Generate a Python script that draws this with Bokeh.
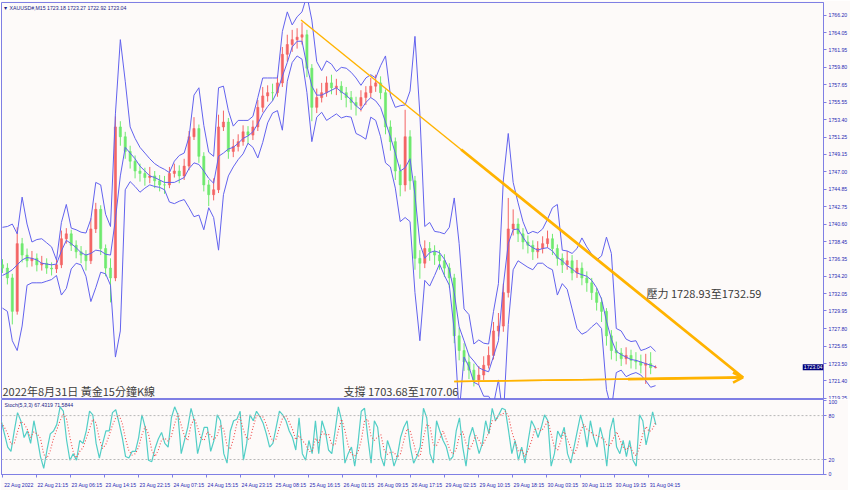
from bokeh.plotting import figure
from bokeh.layouts import column
from bokeh.models import (Range1d, FixedTicker, Label, Arrow, OpenHead, Span,
                          PrintfTickFormatter)
from bokeh.embed import file_html
from bokeh.resources import INLINE

# ---------------- data ----------------
first_open = 1735.6
closes = [
    1735.2, 1734.0, 1729.9, 1738.2, 1736.8, 1736.1, 1736.4, 1735.6, 1735.8, 1735.2,
    1735.1, 1735.6, 1738.8, 1739.4, 1738.0, 1737.2, 1736.8, 1736.1, 1740.0, 1742.4,
    1737.6, 1735.2, 1734.0, 1752.5, 1751.3, 1749.5, 1748.3, 1747.1, 1746.8, 1746.3,
    1746.5, 1745.9, 1745.4, 1745.4, 1746.8, 1747.1, 1746.5, 1747.7, 1751.3, 1752.3,
    1748.9, 1745.4, 1744.2, 1744.8, 1752.5, 1753.1, 1749.5, 1750.1, 1750.7, 1751.9,
    1751.5, 1752.5, 1754.9, 1756.3, 1756.7, 1756.7, 1757.9, 1761.4, 1762.6, 1763.2,
    1763.5, 1763.8, 1759.7, 1754.9, 1756.1, 1756.7, 1757.9, 1757.3, 1757.5, 1756.7,
    1756.1, 1755.5, 1755.1, 1756.1, 1756.7, 1757.5, 1757.9, 1756.7, 1752.5, 1750.7,
    1747.1, 1745.4, 1751.3, 1745.9, 1736.4, 1735.8, 1737.6, 1737.2, 1736.8, 1736.1,
    1735.2, 1734.0, 1726.9, 1725.1, 1723.7, 1722.7, 1721.5, 1722.1, 1723.3, 1724.5,
    1727.5, 1728.1, 1732.2, 1740.0, 1740.6, 1739.4, 1738.4, 1738.0, 1737.2, 1737.6,
    1738.2, 1738.8, 1737.6, 1736.4, 1735.6, 1736.1, 1734.6, 1735.2, 1734.0, 1733.4,
    1732.2, 1731.0, 1729.9, 1726.9, 1725.1, 1724.8, 1724.1, 1724.5, 1723.9, 1723.7,
    1723.3, 1723.5, 1723.0, 1723.04]
highs = [
    1736.3, 1735.8, 1734.5, 1740.2, 1738.9, 1737.6, 1737.3, 1737.0, 1736.7, 1736.4,
    1735.9, 1736.3, 1739.8, 1740.1, 1739.9, 1738.6, 1737.9, 1737.4, 1741.3, 1743.2,
    1742.9, 1738.1, 1736.4, 1753.8, 1753.2, 1751.9, 1750.2, 1749.0, 1748.0, 1747.5,
    1747.6, 1747.1, 1746.6, 1746.5, 1747.6, 1748.0, 1747.8, 1748.6, 1752.0, 1753.7,
    1752.8, 1749.4, 1746.0, 1746.2, 1754.0, 1754.5, 1753.6, 1751.0, 1751.6, 1752.7,
    1752.6, 1753.3, 1755.8, 1757.4, 1757.6, 1757.8, 1758.8, 1762.3, 1763.8, 1764.4,
    1764.6, 1765.3, 1764.4, 1760.2, 1757.2, 1757.9, 1758.7, 1758.9, 1758.4, 1758.1,
    1757.4, 1756.9, 1756.2, 1757.0, 1757.5, 1758.5, 1758.9, 1758.7, 1757.1, 1753.3,
    1751.2, 1747.9, 1754.6, 1752.1, 1746.5, 1737.4, 1738.6, 1738.4, 1738.0, 1737.4,
    1736.9, 1735.8, 1734.5, 1727.9, 1726.0, 1724.6, 1723.5, 1723.2, 1724.4, 1725.6,
    1728.6, 1729.7, 1733.3, 1743.8, 1742.4, 1741.3, 1740.1, 1739.2, 1738.6, 1738.5,
    1739.1, 1739.8, 1739.4, 1738.1, 1737.0, 1737.3, 1736.8, 1736.2, 1735.9, 1734.8,
    1734.0, 1732.8, 1731.6, 1730.3, 1727.6, 1726.2, 1725.4, 1725.5, 1725.2, 1724.9,
    1724.6, 1724.7, 1724.9, 1723.27]
lows = [
    1734.6, 1733.2, 1728.3, 1729.5, 1735.9, 1735.3, 1735.4, 1734.8, 1734.9, 1734.5,
    1734.3, 1734.6, 1735.2, 1738.2, 1737.3, 1736.4, 1735.8, 1734.9, 1735.7, 1739.5,
    1736.8, 1734.2, 1731.0, 1733.6, 1750.2, 1748.6, 1747.4, 1746.2, 1745.8, 1745.3,
    1745.6, 1745.0, 1744.6, 1744.3, 1745.0, 1746.3, 1745.6, 1746.0, 1747.2, 1750.9,
    1748.1, 1744.6, 1742.8, 1743.5, 1744.4, 1752.0, 1748.6, 1748.8, 1749.5, 1750.2,
    1750.4, 1750.9, 1752.0, 1754.3, 1755.6, 1755.7, 1756.2, 1757.4, 1760.5, 1761.7,
    1762.1, 1762.6, 1758.6, 1753.2, 1754.2, 1755.5, 1756.2, 1756.5, 1756.4, 1755.8,
    1754.9, 1754.6, 1753.9, 1754.4, 1755.2, 1756.1, 1756.8, 1755.9, 1751.6, 1749.6,
    1746.0, 1744.0, 1744.6, 1744.8, 1735.0, 1733.9, 1735.2, 1736.1, 1735.6, 1735.0,
    1734.1, 1732.8, 1726.0, 1723.9, 1722.6, 1721.6, 1720.7, 1720.9, 1721.5, 1722.9,
    1724.0, 1726.8, 1727.4, 1731.6, 1739.2, 1738.4, 1737.5, 1737.0, 1736.2, 1736.4,
    1737.0, 1737.7, 1736.8, 1735.5, 1734.6, 1735.0, 1733.7, 1734.0, 1733.1, 1732.3,
    1731.3, 1730.0, 1728.6, 1725.7, 1724.0, 1723.8, 1723.2, 1723.4, 1722.9, 1722.8,
    1722.3, 1721.0, 1722.2, 1722.92]
bb_upper = [
    1740.2, 1740.3, 1740.6, 1739.4, 1743.9, 1740.6, 1738.4, 1738.7, 1738.8, 1738.3,
    1737.8, 1736.2, 1740.8, 1743.0, 1740.1, 1739.9, 1739.6, 1739.5, 1741.2, 1745.7,
    1745.4, 1741.8, 1740.3, 1754.1, 1763.2, 1758.1, 1752.5, 1751.1, 1750.0, 1749.3,
    1748.6, 1748.0, 1747.6, 1747.3, 1746.9, 1748.3, 1749.0, 1749.3, 1751.3, 1756.4,
    1757.3, 1752.7, 1749.4, 1748.9, 1757.3, 1757.5, 1754.5, 1752.6, 1753.3, 1753.3,
    1753.3, 1753.8, 1756.1, 1758.5, 1758.5, 1758.5, 1758.5, 1764.2, 1766.6, 1765.0,
    1766.0, 1766.6, 1768.6, 1765.6, 1760.5, 1759.4, 1760.6, 1760.2, 1759.3, 1759.8,
    1759.7, 1759.2, 1758.5, 1757.6, 1758.5, 1758.9, 1758.5, 1760.0, 1761.2, 1756.4,
    1754.9, 1755.1, 1755.2, 1756.9, 1763.6, 1754.1, 1740.3, 1740.8, 1739.7, 1739.6,
    1739.4, 1740.2, 1743.8, 1738.2, 1730.2, 1729.5, 1725.9, 1726.4, 1726.0, 1725.9,
    1729.9, 1733.3, 1746.0, 1751.7, 1745.7, 1743.2, 1740.9, 1739.4, 1739.7, 1739.5,
    1740.0, 1741.2, 1742.6, 1743.0, 1737.4, 1737.3, 1737.0, 1737.6, 1738.9, 1737.8,
    1736.9, 1736.2, 1736.7, 1739.0, 1737.0, 1727.8, 1727.5, 1726.5, 1726.2, 1726.3,
    1725.1, 1725.3, 1725.6, 1725.0]
bb_middle = [
    1734.3, 1734.6, 1735.0, 1735.6, 1736.2, 1736.5, 1736.4, 1736.2, 1735.8, 1735.7,
    1735.6, 1735.7, 1737.3, 1738.6, 1738.2, 1737.7, 1737.1, 1736.8, 1737.0, 1737.4,
    1737.3, 1736.9, 1736.8, 1741.2, 1746.5, 1750.0, 1749.3, 1748.6, 1747.7, 1747.1,
    1746.5, 1746.3, 1746.0, 1745.7, 1745.7, 1745.7, 1746.0, 1746.3, 1747.4, 1748.1,
    1747.9, 1747.1, 1746.2, 1745.6, 1748.9, 1749.3, 1749.8, 1750.0, 1750.5, 1751.1,
    1751.4, 1751.9, 1752.9, 1754.1, 1755.0, 1755.7, 1756.9, 1758.7, 1760.4, 1762.3,
    1763.0, 1763.0, 1760.0, 1757.5, 1756.4, 1756.4, 1756.7, 1757.0, 1757.3, 1756.8,
    1756.4, 1755.8, 1755.1, 1754.6, 1755.5, 1756.1, 1755.7, 1754.9, 1753.1, 1751.3,
    1749.3, 1747.1, 1747.5, 1748.6, 1744.2, 1738.2, 1736.4, 1737.1, 1737.3, 1737.1,
    1736.3, 1735.0, 1732.2, 1728.0, 1726.3, 1724.5, 1723.8, 1723.0, 1722.7, 1722.5,
    1724.4, 1726.3, 1733.1, 1738.2, 1739.9, 1740.0, 1739.0, 1738.1, 1737.7, 1737.4,
    1737.6, 1737.7, 1737.3, 1736.5, 1736.1, 1735.5, 1735.1, 1734.6, 1734.4, 1734.2,
    1733.7, 1732.8, 1731.4, 1728.7, 1726.5, 1725.0, 1724.6, 1724.3, 1724.0, 1723.9,
    1723.7, 1723.5, 1723.3, 1723.1]
bb_lower = [
    1730.3, 1729.9, 1726.3, 1725.1, 1728.1, 1733.1, 1733.4, 1733.4, 1733.4, 1733.6,
    1733.8, 1734.3, 1731.9, 1732.7, 1735.1, 1735.8, 1735.6, 1734.2, 1731.1, 1732.8,
    1734.7, 1734.5, 1733.1, 1724.3, 1727.5, 1744.8, 1745.8, 1745.2, 1744.5, 1745.0,
    1745.4, 1745.2, 1745.1, 1744.8, 1743.3, 1743.1, 1743.4, 1743.6, 1742.6, 1741.5,
    1741.7, 1739.9, 1742.6, 1741.4, 1737.4, 1744.2, 1746.5, 1747.6, 1748.5, 1749.2,
    1750.5, 1750.0, 1748.7, 1750.6, 1753.0, 1754.2, 1754.5, 1752.1, 1758.1, 1760.4,
    1761.2, 1760.8, 1756.7, 1750.7, 1753.7, 1754.3, 1753.3, 1753.7, 1754.1, 1753.6,
    1753.8, 1753.7, 1751.7, 1751.4, 1751.0, 1753.7, 1753.3, 1751.3, 1748.1, 1747.6,
    1745.0, 1740.9, 1741.4, 1740.9, 1732.2, 1726.3, 1733.7, 1733.0, 1734.3, 1735.7,
    1734.3, 1733.1, 1727.5, 1717.4, 1724.3, 1723.1, 1721.2, 1720.9, 1719.5, 1719.5,
    1718.5, 1721.5, 1716.8, 1728.3, 1735.0, 1736.1, 1735.7, 1735.3, 1735.0, 1735.8,
    1735.8, 1735.3, 1735.0, 1731.9, 1733.3, 1732.6, 1730.2, 1727.8, 1727.1, 1727.4,
    1728.0, 1728.5, 1727.8, 1720.3, 1717.9, 1722.4, 1722.7, 1721.9, 1722.2, 1722.4,
    1722.1, 1721.4, 1720.6, 1720.8]
stoch_main = [
    73, 55, 37, 31, 59, 84, 73, 50, 59, 42, 73, 50, 24, 8, 33, 55, 59, 68, 92, 86,
    46, 19, 28, 19, 46, 42, 59, 86, 81, 42, 22, 42, 59, 59, 84, 88, 70, 50, 24, 22,
    31, 31, 50, 81, 64, 19, 17, 35, 48, 57, 42, 37, 77, 92, 81, 28, 46, 64, 90, 73,
    28, 46, 64, 64, 31, 46, 81, 73, 28, 15, 59, 73, 75, 86, 19, 42, 81, 73, 86, 79,
    70, 55, 37, 42, 64, 86, 81, 73, 59, 50, 33, 77, 28, 19, 46, 28, 73, 28, 73,
    59, 33, 28, 59, 92, 73, 15, 28, 37, 11, 42, 86, 90, 50, 15, 73, 64, 24, 11, 46,
    33, 11, 24, 50, 64, 73, 37, 15, 24, 37, 90, 77, 28, 15, 73, 59, 46, 37, 19, 24,
    59, 77, 37, 11, 50, 64, 46, 28, 42, 73, 55, 90, 73, 81, 90, 88, 59, 28, 46, 19,
    37, 15, 46, 73, 64, 50, 64, 81, 73, 11, 28, 59, 50, 64, 28, 15, 37, 59, 81, 64,
    37, 73, 50, 37, 64, 46, 11, 59, 77, 37, 28, 46, 24, 46, 19, 11, 81, 73, 40, 60,
    85, 67.4319]
stoch_signal = [
    70, 64, 55, 41, 42, 58, 72, 69, 61, 50, 58, 55, 49, 27, 22, 32, 49, 61, 73, 82,
    75, 50, 31, 22, 31, 36, 49, 62, 75, 70, 48, 35, 41, 53, 67, 77, 81, 69, 48, 32,
    26, 28, 37, 54, 65, 55, 33, 24, 33, 47, 49, 45, 52, 69, 83, 67, 52, 46, 67, 76,
    64, 49, 46, 58, 53, 47, 53, 67, 61, 39, 34, 49, 69, 78, 60, 49, 47, 65, 80, 79,
    78, 68, 54, 45, 48, 64, 77, 80, 71, 61, 47, 53, 46, 41, 31, 31, 49, 43, 58,
    53, 55, 40, 40, 60, 75, 60, 39, 27, 25, 30, 46, 73, 75, 52, 46, 51, 54, 33, 27,
    30, 30, 23, 28, 46, 62, 58, 42, 25, 25, 50, 68, 65, 40, 39, 49, 59, 47, 34, 27,
    34, 53, 58, 42, 33, 42, 53, 46, 39, 48, 57, 73, 73, 81, 81, 86, 79, 58, 44, 31,
    34, 24, 33, 45, 61, 62, 59, 65, 73, 55, 37, 33, 46, 58, 47, 36, 27, 37, 59, 68,
    61, 58, 53, 53, 50, 49, 40, 39, 49, 58, 47, 37, 33, 39, 30, 25, 37, 55, 65, 58,
    62, 71.5844]
price_ticks = [1719.25, 1721.40, 1723.50, 1725.65, 1727.80, 1729.95, 1732.05, 1734.20,
               1736.35, 1738.45, 1740.60, 1742.75, 1744.85, 1747.00, 1749.15, 1751.25,
               1753.40, 1755.55, 1757.65, 1759.80, 1761.95, 1764.05, 1766.20]
stoch_levels = [0, 20, 80, 100]
time_labels = ["22 Aug 2022", "22 Aug 21:15", "23 Aug 06:15", "23 Aug 14:15",
               "23 Aug 22:15", "24 Aug 07:15", "24 Aug 15:15", "24 Aug 23:15",
               "25 Aug 08:15", "25 Aug 16:15", "26 Aug 01:15", "26 Aug 09:15",
               "26 Aug 17:15", "29 Aug 02:15", "29 Aug 10:15", "29 Aug 18:15",
               "30 Aug 03:15", "30 Aug 11:15", "30 Aug 19:15", "31 Aug 04:15"]
last_price = 1723.04
# hand-drawn trend lines (bar position, price)
top_line = [(307, 1765.6), (757, 1721.8)]
bottom_line = [(463, 1721.3), (757, 1721.8)]

# ---------------- styling ----------------
BG = "#fdfaf9"
FRAME = "#7f7fe4"
AXIS_TXT = "#2a2ab4"
NAVY = "#1c1c86"
UP = "#f46464"
DOWN = "#6fea6f"
BB = "#6262ee"
GOLD = "#ffb300"
NOTE = "#3c3c3c"
FW = 822
MAIN_H = 397
STOCH_H = 75
BAR0, BAR_STEP = 3, 5
ST0, ST_STEP = 5 / 3, 10 / 3
TICK0, TICK_STEP, LABEL_SHIFT = 2.7, 34.63, 17

n = min(len(closes), len(highs), len(lows))
bar_x = [BAR0 + BAR_STEP * k for k in range(n)]
opens = [first_open] + closes[:n - 1]
tops = [max(o, c) for o, c in zip(opens, closes)]
bots = [min(o, c) for o, c in zip(opens, closes)]
ccol = [UP if c > o else DOWN for o, c in zip(opens, closes)]

xr = Range1d(2, 839)

p = figure(frame_width=FW, frame_height=MAIN_H, x_range=xr,
           y_range=Range1d(1719.1, 1767.75), x_axis_location=None,
           y_axis_location="right", output_backend="svg", toolbar_location=None,
           background_fill_color=BG, border_fill_color=BG,
           min_border_left=1, min_border_top=2, min_border_bottom=0,
           min_border_right=25)
p.grid.visible = False
p.outline_line_color = FRAME
p.outline_line_width = 1
ya = p.yaxis[0]
ya.ticker = FixedTicker(ticks=price_ticks)
ya.formatter = PrintfTickFormatter(format="%.2f")
ya.axis_line_color = FRAME
ya.major_tick_line_color = FRAME
ya.major_tick_out = 3
ya.major_tick_in = 0
ya.minor_tick_line_color = None
ya.major_label_text_font = "Liberation Sans"
ya.major_label_text_font_size = "5.2px"
ya.major_label_text_color = AXIS_TXT
ya.major_label_standoff = 2

# candles
p.segment(x0=bar_x, y0=lows[:n], x1=bar_x, y1=highs[:n], line_color=ccol, line_width=1)
p.vbar(x=bar_x, width=2.2, top=tops, bottom=bots, fill_color=ccol, line_color=ccol,
       line_width=0.6)

# bollinger bands
for band in (bb_upper, bb_middle, bb_lower):
    m = min(len(band), n)
    p.line(bar_x[:m], band[:m], line_color=BB, line_width=1)

# trend lines
def point_on(line, x):
    (x0, y0), (x1, y1) = line
    return y0 + (y1 - y0) * (x - x0) / (x1 - x0)

p.segment(x0=[top_line[0][0], bottom_line[0][0]], y0=[top_line[0][1], bottom_line[0][1]],
          x1=[top_line[1][0], bottom_line[1][0]], y1=[top_line[1][1], bottom_line[1][1]],
          line_color=GOLD, line_width=1.4)
p.segment(x0=[470, 640], y0=[point_on(top_line, 470), point_on(bottom_line, 640)],
          x1=[top_line[1][0], bottom_line[1][0]], y1=[top_line[1][1], bottom_line[1][1]],
          line_color=GOLD, line_width=2.8)
p.add_layout(Arrow(end=OpenHead(size=10, line_color=GOLD, line_width=2.6),
                   x_start=bottom_line[0][0], y_start=bottom_line[0][1],
                   x_end=bottom_line[1][0], y_end=bottom_line[1][1],
                   line_color=GOLD, line_width=1.4))

# texts
p.add_layout(Label(x=1.5, y=MAIN_H - 2, x_units="screen", y_units="screen",
                   text="\u25bc XAUUSD#,M15  1723.18 1723.27 1722.92 1723.04",
                   text_font="Liberation Sans", text_font_size="5.2px",
                   text_color=NAVY, text_baseline="top"))
CJK = "Noto Sans CJK TC"
for tx, ty, txt in ((1, 9, "2022年8月31日 黃金15分鐘K線"),
                    (342, 9, "支撐 1703.68至1707.06"),
                    (645, 107, "壓力 1728.93至1732.59")):
    p.add_layout(Label(x=tx, y=ty, x_units="screen", y_units="screen", text=txt,
                       text_font=CJK, text_font_size="11px", text_color=NOTE,
                       text_baseline="alphabetic"))
# current-price tag at the price scale edge
p.add_layout(Label(x=xr.end, y=last_price, x_units="data", y_units="data",
                   text=f"{last_price:.2f}", text_font="Liberation Sans",
                   text_font_size="5.2px", text_color="white", text_baseline="middle",
                   text_align="right", background_fill_color="#00007a",
                   background_fill_alpha=1.0, padding=1))

# ---------------- stochastic panel ----------------
s = figure(frame_width=FW, frame_height=STOCH_H, x_range=xr,
           y_range=Range1d(-0.5, 102), y_axis_location="right",
           output_backend="svg", toolbar_location=None,
           background_fill_color=BG, border_fill_color=BG,
           min_border_left=1, min_border_top=0, min_border_bottom=10,
           min_border_right=25)
s.grid.visible = False
s.outline_line_color = FRAME
sy = s.yaxis[0]
sy.ticker = FixedTicker(ticks=stoch_levels)
sy.axis_line_color = FRAME
sy.major_tick_line_color = FRAME
sy.major_tick_out = 3
sy.major_tick_in = 0
sy.minor_tick_line_color = None
sy.major_label_text_font = "Liberation Sans"
sy.major_label_text_font_size = "5.2px"
sy.major_label_text_color = AXIS_TXT
sy.major_label_standoff = 2

tick_pos = [round(TICK0 + TICK_STEP * j, 2) for j in range(len(time_labels))]
label_pos = [round(t + LABEL_SHIFT, 2) for t in tick_pos]
sx = s.xaxis[0]
sx.ticker = FixedTicker(ticks=label_pos, minor_ticks=tick_pos)
sx.major_label_overrides = {lp: lab for lp, lab in zip(label_pos, time_labels)}
sx.axis_line_color = FRAME
sx.major_tick_line_color = None
sx.minor_tick_line_color = FRAME
sx.minor_tick_out = 3
sx.minor_tick_in = 0
sx.major_label_text_font = "Liberation Sans"
sx.major_label_text_font_size = "5.2px"
sx.major_label_text_color = AXIS_TXT
sx.major_label_standoff = 1

for lv in (20, 80):
    s.add_layout(Span(location=lv, dimension="width", line_color="#b8b8b8",
                      line_dash="2 2", line_width=1))

m = min(len(stoch_main), len(stoch_signal))
st_x = [ST0 + ST_STEP * j for j in range(m)]
s.line(st_x, stoch_main[:m], line_color="#52cec6", line_width=1.2)
s.line(st_x, stoch_signal[:m], line_color="#f04a4a", line_width=1.1, line_dash="1 2")

s.add_layout(Label(x=3, y=STOCH_H - 2, x_units="screen", y_units="screen",
                   text=f"Stoch(5,3,3) {stoch_main[m-1]:.4f} {stoch_signal[m-1]:.4f}",
                   text_font="Liberation Sans", text_font_size="5.2px",
                   text_color=NAVY, text_baseline="top"))

layout = column(p, s, spacing=0)
open("out.html", "w").write(file_html(layout, INLINE))
